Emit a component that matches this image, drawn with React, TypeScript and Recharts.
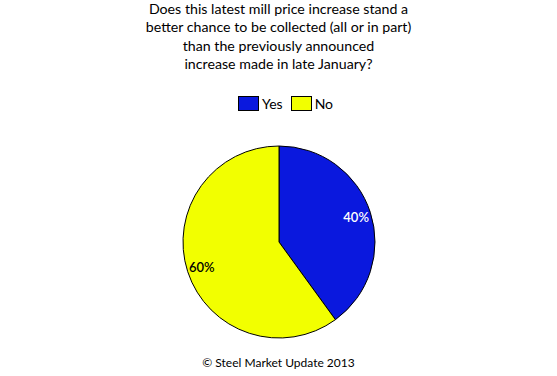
import { PieChart, Pie, Cell } from "recharts";

const answers = ["Yes", "No"];
const shares = [40, 60];
const sliceColors = ["#0A18DE", "#F2FF00"];
const labelColors = ["#FFFFFF", "#000000"];
const titleLines = [
  "Does this latest mill price increase stand a",
  "better chance to be collected (all or in part)",
  "than the previously announced",
  "increase made in late January?",
];
const footer = "\u00A9 Steel Market Update 2013";

const pieData = answers.map((name, i) => ({ name, value: shares[i] }));

const RADIAN = Math.PI / 180;
const font = "Lato, 'Open Sans', sans-serif";

function sliceLabel(props: any) {
  const { cx, cy, midAngle, outerRadius, percent, index } = props;
  const r = outerRadius * 0.845;
  const x = cx + r * Math.cos(-midAngle * RADIAN);
  const y = cy + r * Math.sin(-midAngle * RADIAN);
  return (
    <text x={x} y={y} fill={labelColors[index]} textAnchor="middle" dominantBaseline="central" fontFamily={font} fontSize={13} fontWeight={600}>
      {`${Math.round(percent * 100)}%`}
    </text>
  );
}

function LegendBoxes() {
  return (
    <div style={{ position: "absolute", left: 0, top: 95, width: 557, display: "flex", justifyContent: "center", alignItems: "center", fontFamily: font, fontSize: 14, color: "#000", paddingLeft: 14, boxSizing: "border-box" }}>
      {answers.map((a, i) => (
        <div key={a} style={{ display: "flex", alignItems: "center", marginRight: i === 0 ? 8 : 0 }}>
          <span style={{ width: 19, height: 13, background: sliceColors[i], border: "1px solid #000", display: "inline-block", marginRight: 3 }} />
          <span>{a}</span>
        </div>
      ))}
    </div>
  );
}

export default function App() {
  return (
    <div style={{ position: "absolute", left: 0, top: 0, width: 557, height: 376, background: "#fff" }}>
      <PieChart width={557} height={376} margin={{ top: 0, right: 0, bottom: 0, left: 0 }}>
        <Pie
          data={pieData}
          dataKey="value"
          nameKey="name"
          cx={279}
          cy={242}
          outerRadius={96}
          startAngle={90}
          endAngle={-270}
          stroke="#000"
          strokeWidth={1}
          label={sliceLabel}
          labelLine={false}
          isAnimationActive={false}
        >
          {pieData.map((d, i) => (
            <Cell key={d.name} fill={sliceColors[i]} />
          ))}
        </Pie>
      </PieChart>
      <div style={{ position: "absolute", left: 0, top: 0, width: 557, textAlign: "center", fontFamily: font, fontSize: 14.2, lineHeight: "18.3px", color: "#000" }}>
        {titleLines.map((l) => (
          <div key={l}>{l}</div>
        ))}
      </div>
      <LegendBoxes />
      <div style={{ position: "absolute", left: 0, top: 355, width: 557, textAlign: "center", fontFamily: font, fontSize: 12, color: "#000" }}>
        {footer}
      </div>
    </div>
  );
}
